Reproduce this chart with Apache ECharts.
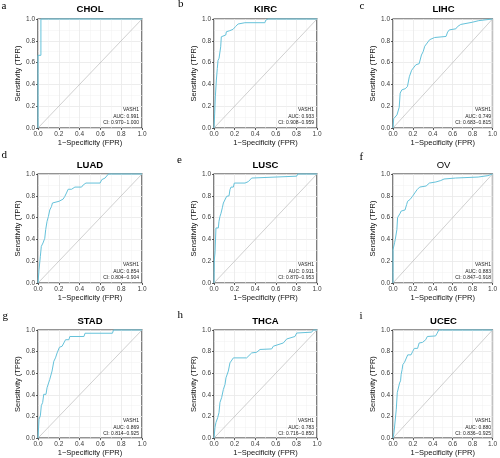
<!DOCTYPE html>
<html><head><meta charset="utf-8">
<script src="https://cdn.jsdelivr.net/npm/echarts@6/dist/echarts.min.js"></script>
<style>html,body{margin:0;padding:0;background:#fff}#c{width:500px;height:458px}</style>
</head><body><div id="c"></div>
<script>
// ---------------- data ----------------
const panelLabels = ['a','b','c','d','e','f','g','h','i'];
const cancerNames = ['CHOL','KIRC','LIHC','LUAD','LUSC','OV','STAD','THCA','UCEC'];
const geneName = 'VASH1';
const aucValues = ['0.991','0.933','0.749','0.854','0.911','0.883','0.869','0.783','0.880'];
const ciValues = ['0.970\u22121.000','0.908\u22120.959','0.683\u22120.815','0.804\u22120.904','0.870\u22120.953','0.847\u22120.918','0.814\u22120.925','0.716\u22120.850','0.836\u22120.925'];
const tickLabels = ['0.0','0.2','0.4','0.6','0.8','1.0'];
const xAxisName = '1\u2212Specificity (FPR)';
const yAxisName = 'Sensitivity (TPR)';
const diagFPR = [0, 1];
const diagTPR = [0, 1];

const cholFPR = [0, 0, 0.028, 0.028, 1];
const cholTPR = [0, 0.667, 0.667, 1, 1];

const kircFPR = [0, 0.0065, 0.013, 0.023, 0.032, 0.039, 0.049, 0.058, 0.065, 0.071, 0.088, 0.114, 0.12, 0.153, 0.185, 0.208, 0.234, 0.3, 0.494, 0.503, 0.526, 1];
const kircTPR = [0, 0.13, 0.285, 0.44, 0.545, 0.62, 0.64, 0.64, 0.745, 0.837, 0.853, 0.853, 0.883, 0.893, 0.905, 0.93, 0.954, 0.966, 0.966, 0.99, 1, 1];

const lihcFPR = [0, 0.007, 0.02, 0.04, 0.0625, 0.072, 0.089, 0.122, 0.145, 0.164, 0.1875, 0.204, 0.23, 0.263, 0.286, 0.303, 0.319, 0.352, 0.368, 0.418, 0.533, 0.549, 0.566, 0.632, 0.648, 0.681, 0.796, 0.862, 0.878, 1];
const lihcTPR = [0, 0.086, 0.1, 0.12, 0.19, 0.32, 0.35, 0.36, 0.38, 0.47, 0.53, 0.55, 0.58, 0.59, 0.67, 0.70, 0.75, 0.79, 0.81, 0.83, 0.84, 0.88, 0.90, 0.91, 0.93, 0.95, 0.97, 0.985, 1, 1];

const luadFPR = [0, 0.0097, 0.0226, 0.032, 0.048, 0.065, 0.074, 0.087, 0.1, 0.113, 0.129, 0.139, 0.145, 0.203, 0.21, 0.242, 0.258, 0.274, 0.29, 0.323, 0.355, 0.419, 0.435, 0.461, 0.597, 0.613, 0.645, 0.661, 0.677, 1];
const luadTPR = [0, 0.12, 0.245, 0.336, 0.367, 0.41, 0.49, 0.566, 0.61, 0.67, 0.70, 0.734, 0.75, 0.75, 0.76, 0.77, 0.795, 0.826, 0.86, 0.86, 0.88, 0.88, 0.90, 0.917, 0.917, 0.948, 0.963, 0.98, 1, 1];

const luscFPR = [0, 0.003, 0.0097, 0.019, 0.042, 0.0485, 0.058, 0.068, 0.081, 0.091, 0.107, 0.123, 0.146, 0.155, 0.165, 0.188, 0.197, 0.301, 0.333, 0.366, 0.382, 0.803, 0.812, 1];
const luscTPR = [0, 0.21, 0.275, 0.505, 0.505, 0.566, 0.61, 0.64, 0.69, 0.734, 0.75, 0.795, 0.80, 0.856, 0.88, 0.88, 0.917, 0.917, 0.93, 0.963, 0.98, 0.98, 1, 1];

const ovFPR = [0, 0, 0.0065, 0.016, 0.023, 0.039, 0.046, 0.056, 0.072, 0.082, 0.121, 0.137, 0.147, 0.17, 0.196, 0.219, 0.242, 0.268, 0.333, 0.366, 0.431, 0.48, 0.513, 0.627, 0.856, 0.954, 1];
const ovTPR = [0, 0.306, 0.32, 0.37, 0.40, 0.49, 0.60, 0.61, 0.64, 0.66, 0.67, 0.72, 0.75, 0.765, 0.795, 0.826, 0.856, 0.88, 0.89, 0.917, 0.927, 0.94, 0.954, 0.963, 0.972, 0.985, 1];

const stadFPR = [0, 0.0097, 0.0226, 0.032, 0.045, 0.055, 0.077, 0.087, 0.103, 0.113, 0.126, 0.135, 0.152, 0.168, 0.184, 0.2, 0.206, 0.232, 0.248, 0.265, 0.297, 0.306, 0.442, 0.452, 0.716, 0.726, 1];
const stadTPR = [0, 0.175, 0.206, 0.30, 0.33, 0.405, 0.405, 0.466, 0.466, 0.543, 0.558, 0.62, 0.71, 0.742, 0.788, 0.80, 0.84, 0.85, 0.865, 0.91, 0.91, 0.94, 0.94, 0.97, 0.97, 1, 1];

const thcaFPR = [0, 0.0097, 0.019, 0.036, 0.0485, 0.058, 0.074, 0.091, 0.107, 0.1165, 0.139, 0.155, 0.172, 0.188, 0.317, 0.333, 0.366, 0.414, 0.447, 0.56, 0.576, 0.673, 0.706, 0.738, 0.786, 0.803, 0.948, 0.964, 1];
const thcaTPR = [0, 0.10, 0.144, 0.19, 0.236, 0.33, 0.374, 0.45, 0.497, 0.558, 0.62, 0.696, 0.712, 0.742, 0.742, 0.758, 0.788, 0.794, 0.82, 0.825, 0.85, 0.88, 0.917, 0.926, 0.94, 0.972, 0.98, 1, 1];

const ucecFPR = [0, 0.01, 0.033, 0.043, 0.056, 0.066, 0.076, 0.082, 0.092, 0.099, 0.115, 0.132, 0.148, 0.181, 0.197, 0.214, 0.247, 0.263, 0.296, 0.329, 0.345, 0.428, 0.444, 0.46, 1];
const ucecTPR = [0, 0.05, 0.267, 0.42, 0.435, 0.51, 0.53, 0.59, 0.635, 0.68, 0.70, 0.71, 0.77, 0.77, 0.80, 0.83, 0.83, 0.88, 0.885, 0.91, 0.94, 0.945, 0.97, 1, 1];

const fprSets = [cholFPR, kircFPR, lihcFPR, luadFPR, luscFPR, ovFPR, stadFPR, thcaFPR, ucecFPR];
const tprSets = [cholTPR, kircTPR, lihcTPR, luadTPR, luscTPR, ovTPR, stadTPR, thcaTPR, ucecTPR];

// ---------------- layout / style ----------------
const colLeft = [38, 214, 393];
const colWidth = [104, 103, 101];
const rowTop = [19, 174, 330];
const rowHeight = 109;
const titleY = [9, 165.5, 321.5];
const titleWeight = ['bold','bold','bold','bold','bold','normal','bold','bold','bold'];
const labelPos = [[1.5,6],[178,4],[359.5,6],[1.5,155],[177,160],[359.5,157],[2.5,316],[177.5,315],[359.5,316]];
const rocColor = '#65c2da';
const sans = 'Liberation Sans, Arial, sans-serif';

const zip = (a, b) => a.map((v, i) => [v, b[i]]);

const grids = [], xAxes = [], yAxes = [], series = [], graphics = [];
for (let k = 0; k < 9; k++) {
  const r = Math.floor(k / 3), c = k % 3;
  const L = colLeft[c], W = colWidth[c], T = rowTop[r], H = rowHeight;
  grids.push({left: L, top: T, width: W, height: H, show: true, borderColor: '#2b2b2b', borderWidth: 1.2, backgroundColor: '#fff', containLabel: false});
  const common = {
    type: 'value', gridIndex: k, min: 0, max: 1, interval: 0.2,
    axisLine: {show: false},
    axisTick: {show: true, length: 2, lineStyle: {color: '#333', width: 0.8}},
    axisLabel: {fontSize: 6.5, color: '#3a3a3a', fontFamily: sans, margin: 3,
      formatter: v => tickLabels[Math.round(v / 0.2)]},
    splitLine: {show: true, lineStyle: {color: '#e8e8e8', width: 0.8}},
    minorTick: {show: false, splitNumber: 2},
    minorSplitLine: {show: true, lineStyle: {color: '#f1f1f1', width: 0.5}},
    nameLocation: 'middle',
    nameTextStyle: {fontSize: 7.5, color: '#111', fontFamily: sans}
  };
  xAxes.push(Object.assign({}, common, {name: xAxisName, nameGap: 10}));
  yAxes.push(Object.assign({}, common, {name: yAxisName, nameGap: 14}));
  series.push({type: 'line', xAxisIndex: k, yAxisIndex: k, data: zip(diagFPR, diagTPR),
    showSymbol: false, symbol: 'none', silent: true, animation: false,
    lineStyle: {color: '#b0b0b0', width: 0.6}, z: 2});
  series.push({type: 'line', xAxisIndex: k, yAxisIndex: k, data: zip(fprSets[k], tprSets[k]),
    showSymbol: false, symbol: 'none', clip: false, animation: false,
    lineStyle: {color: rocColor, width: 1.0}, z: 3});
  graphics.push({type: 'text', x: L + W / 2, y: titleY[r], silent: true,
    style: {text: cancerNames[k], font: titleWeight[k] + ' 9.5px ' + sans, fill: '#000', textAlign: 'center', textVerticalAlign: 'middle'}});
  graphics.push({type: 'text', x: labelPos[k][0], y: labelPos[k][1], silent: true,
    style: {text: panelLabels[k], font: '11px Liberation Serif, Times New Roman, serif', fill: '#000', textAlign: 'left', textVerticalAlign: 'middle'}});
  const ann = [geneName, 'AUC: ' + aucValues[k], 'CI: ' + ciValues[k]];
  const offs = [18.5, 11.5, 5.2];
  ann.forEach((t, j) => graphics.push({type: 'text', x: L + W - 3, y: T + H - offs[j], silent: true, z: 10,
    style: {text: t, font: '5px ' + sans, fill: '#222', textAlign: 'right', textVerticalAlign: 'middle'}}));
}

const chart = echarts.init(document.getElementById('c'), null, {renderer: 'canvas'});
chart.setOption({
  backgroundColor: '#fff',
  animation: false,
  grid: grids, xAxis: xAxes, yAxis: yAxes, series: series, graphic: graphics
});
</script></body></html>
